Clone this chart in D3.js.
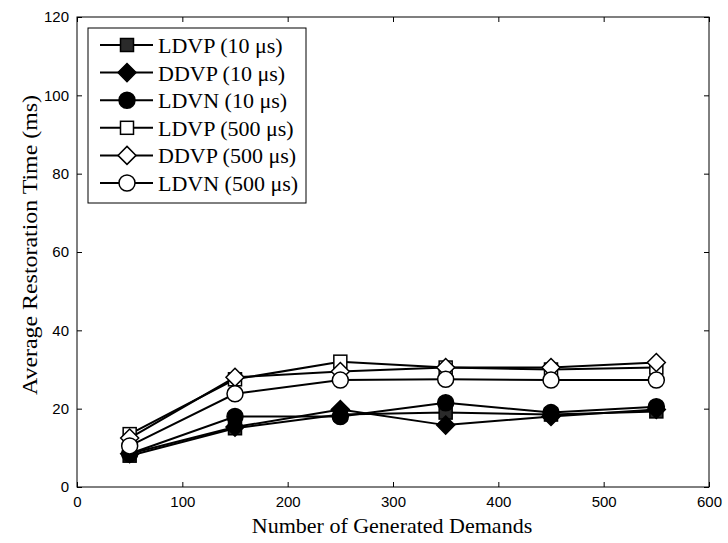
<!DOCTYPE html>
<html><head><meta charset="utf-8">
<script src="https://cdn.jsdelivr.net/npm/d3@7/dist/d3.min.js"></script>
<style>body{margin:0;background:#fff;}</style>
</head><body>
<svg id="c" width="728" height="543"></svg>
<script>
const demands = [50, 150, 250, 350, 450, 550];
const seriesNames = ["LDVP (10 μs)", "DDVP (10 μs)", "LDVN (10 μs)", "LDVP (500 μs)", "DDVP (500 μs)", "LDVN (500 μs)"];
const ldvp10 = [8, 15, 18.5, 19, 18.5, 19.3];
const ddvp10 = [8.5, 15.3, 19.8, 15.8, 18, 19.8];
const ldvn10 = [8.5, 18, 18, 21.5, 19, 20.5];
const ldvp500 = [13.5, 27.5, 32, 30.5, 30, 30.5];
const ddvp500 = [12.5, 28, 29.5, 30.5, 30.5, 31.8];
const ldvn500 = [10.5, 23.8, 27.3, 27.5, 27.3, 27.3];
const xTicks = [0, 100, 200, 300, 400, 500, 600];
const yTicks = [0, 20, 40, 60, 80, 100, 120];

const series = [
  {name: seriesNames[0], values: ldvp10, shape: "square", fill: "#2a2a2a"},
  {name: seriesNames[1], values: ddvp10, shape: "diamond", fill: "#000"},
  {name: seriesNames[2], values: ldvn10, shape: "circle", fill: "#000"},
  {name: seriesNames[3], values: ldvp500, shape: "square", fill: "#fff"},
  {name: seriesNames[4], values: ddvp500, shape: "diamond", fill: "#fff"},
  {name: seriesNames[5], values: ldvn500, shape: "circle", fill: "#fff"}
];

const L = 77, R = 709, T = 17, B = 487;
const x = d3.scaleLinear().domain([0, 600]).range([L, R]);
const y = d3.scaleLinear().domain([0, 120]).range([B, T]);
const svg = d3.select("#c");

svg.append("g").attr("transform", `translate(0,${B})`)
  .call(d3.axisBottom(x).tickValues(xTicks).tickSize(-5).tickPadding(9));
svg.append("g").attr("transform", `translate(${L},0)`)
  .call(d3.axisLeft(y).tickValues(yTicks).tickSize(-5).tickPadding(8));
svg.append("g").attr("transform", `translate(0,${T})`)
  .call(d3.axisTop(x).tickValues(xTicks).tickSize(-5).tickFormat(""));
svg.append("g").attr("transform", `translate(${R},0)`)
  .call(d3.axisRight(y).tickValues(yTicks).tickSize(-5).tickFormat(""));
svg.selectAll(".domain").remove();
svg.selectAll(".tick line").attr("stroke", "#000").attr("stroke-width", 1);
svg.selectAll(".tick text").attr("font-family", "Liberation Sans, Arial, sans-serif")
  .attr("font-size", 15).attr("fill", "#000");
svg.append("rect").attr("x", L).attr("y", T).attr("width", R - L).attr("height", B - T)
  .attr("fill", "none").attr("stroke", "#000").attr("stroke-width", 1);

function marker(g, shape, cx, cy, fill) {
  if (shape === "square") {
    g.append("rect").attr("x", cx - 6.5).attr("y", cy - 6.5).attr("width", 13).attr("height", 13)
      .attr("fill", fill).attr("stroke", "#000").attr("stroke-width", 1.5);
  } else if (shape === "diamond") {
    const s = 9;
    g.append("path").attr("d", `M${cx},${cy - s}L${cx + s},${cy}L${cx},${cy + s}L${cx - s},${cy}Z`)
      .attr("fill", fill).attr("stroke", "#000").attr("stroke-width", 1.5);
  } else {
    g.append("circle").attr("cx", cx).attr("cy", cy).attr("r", 8)
      .attr("fill", fill).attr("stroke", "#000").attr("stroke-width", 1.5);
  }
}

const line = d3.line().x((d, i) => x(demands[i])).y(d => y(d));
series.forEach(s => {
  const g = svg.append("g");
  g.append("path").attr("d", line(s.values)).attr("fill", "none")
    .attr("stroke", "#000").attr("stroke-width", 2);
  s.values.forEach((v, i) => marker(g, s.shape, x(demands[i]), y(v), s.fill));
});

// legend
const lg = svg.append("g");
lg.append("rect").attr("x", 88).attr("y", 28).attr("width", 218).attr("height", 175)
  .attr("fill", "#fff").attr("stroke", "#000").attr("stroke-width", 1);
series.forEach((s, i) => {
  const yy = 45 + i * 27.6;
  lg.append("line").attr("x1", 100).attr("x2", 153).attr("y1", yy).attr("y2", yy)
    .attr("stroke", "#000").attr("stroke-width", 2);
  marker(lg, s.shape, 127, yy, s.fill);
  lg.append("text").attr("x", 158).attr("y", yy).attr("dy", "0.36em")
    .attr("font-family", "Liberation Serif, Times New Roman, serif").attr("font-size", 22)
    .text(s.name);
});

svg.append("text").attr("x", 392).attr("y", 533).attr("text-anchor", "middle")
  .attr("font-family", "Liberation Serif, Times New Roman, serif").attr("font-size", 22)
  .text("Number of Generated Demands");
svg.append("text").attr("transform", `translate(37,${245}) rotate(-90)`)
  .attr("text-anchor", "middle")
  .attr("font-family", "Liberation Serif, Times New Roman, serif").attr("font-size", 22)
  .attr("textLength", 300).attr("lengthAdjust", "spacingAndGlyphs")
  .text("Average Restoration Time (ms)");
</script>
</body></html>
